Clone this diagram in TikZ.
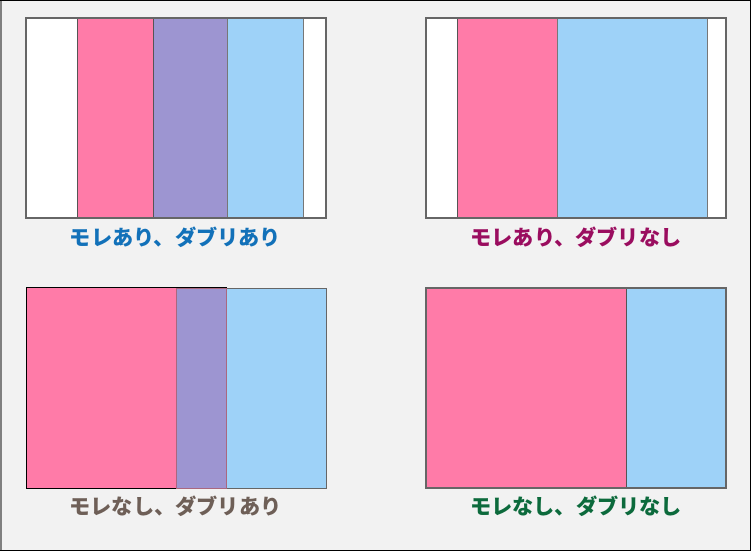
\documentclass[tikz,border=0pt]{standalone}
\usepackage{fontspec}
\newfontfamily\jpfont{Noto Sans CJK JP}[BoldFont={* Black}]
\definecolor{bgc}{HTML}{F2F2F2}
\definecolor{pinkc}{HTML}{FF7BA8}
\definecolor{purpc}{HTML}{9D95D1}
\definecolor{bluec}{HTML}{9ED2F8}
\definecolor{edgec}{HTML}{555555}
\definecolor{lblA}{HTML}{1271B9}
\definecolor{lblB}{HTML}{9A0D5F}
\definecolor{lblC}{HTML}{6E5F57}
\definecolor{lblD}{HTML}{0C6A3C}
\begin{document}
\begin{tikzpicture}[x=1pt,y=-1pt,
  strip/.style={draw=edgec,line width=1pt},
  frame/.style={draw=edgec!90,line width=1.4pt},
  lbl/.style={font=\jpfont\bfseries\fontsize{21.2}{23}\selectfont,inner sep=0pt}]
\useasboundingbox (0,0) rectangle (752,551);
\draw[fill=bgc,draw=black,line width=1.2pt] (0.6,0.6) rectangle (750.4,550.4);
\draw[draw=gray,line width=1.6pt] (0.8,0.6) -- (0.8,550.4);
% panel 1
\fill[white] (26,18) rectangle (326,218);
\draw[strip,fill=pinkc] (77,18) rectangle (153,218);
\draw[strip,fill=purpc] (153,18) rectangle (227,218);
\draw[strip,fill=bluec,draw=edgec!80] (227,18) rectangle (303,218);
\draw[frame] (26,18) rectangle (326,218);
\node[lbl,text=lblA] (l1) at (175.5,237) {モレあり、ダブリあり};
% panel 2
\fill[white] (426,18) rectangle (726,218);
\draw[strip,fill=pinkc] (457,18) rectangle (557,218);
\draw[strip,fill=bluec,draw=edgec!80] (557,18) rectangle (707,218);
\draw[frame] (426,18) rectangle (726,218);
\node[lbl,text=lblB] (l2) at (576,237) {モレあり、ダブリなし};
% panel 3
\draw[strip,fill=pinkc,draw=black] (26,287.5) rectangle (226,488);
\draw[strip,fill=bluec,draw=edgec!90] (226,288) rectangle (326,488);
\draw[strip,fill=purpc,draw=pinkc!50!edgec] (176,288) rectangle (226,488);
\draw[line width=1pt,draw=black] (26,287.5) -- (226,287.5);
\draw[line width=1pt,draw=black] (26,488) -- (176,488);
\node[lbl,text=lblC] (l3) at (175.5,506) {モレなし、ダブリあり};
% panel 4
\draw[strip,fill=pinkc] (426,288) rectangle (626,488);
\draw[strip,fill=bluec] (626,288) rectangle (726,488);
\draw[frame] (426,288) rectangle (726,488);
\node[lbl,text=lblD] (l4) at (576,506) {モレなし、ダブリなし};
\end{tikzpicture}
\end{document}
